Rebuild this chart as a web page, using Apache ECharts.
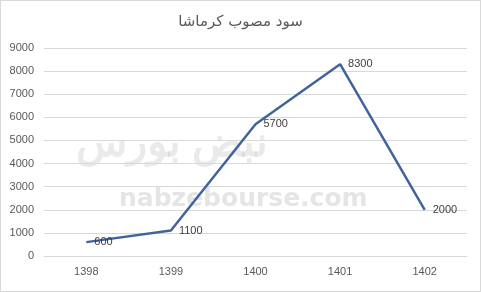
<!DOCTYPE html>
<html><head><meta charset="utf-8">
<script src="https://cdn.jsdelivr.net/npm/echarts@6/dist/echarts.min.js"></script>
<style>html,body{margin:0;padding:0;background:#fff}#c{width:481px;height:292px;box-sizing:border-box;border:1px solid #d9d9d9}</style>
</head><body><div id="c"></div>
<script>
const title = 'سود مصوب کرماشا';
const categories = ['1398', '1399', '1400', '1401', '1402'];
const values = [600, 1100, 5700, 8300, 2000];
const yTicks = [0, 1000, 2000, 3000, 4000, 5000, 6000, 7000, 8000, 9000];

const chart = echarts.init(document.getElementById('c'));
chart.setOption({
  animation: false,
  title: {text: title, left: 'center', top: 9, textStyle: {fontFamily: 'DejaVu Sans', fontSize: 15, fontWeight: 'normal', color: '#595959'}},
  graphic: [
    {type: 'text', left: 118, top: 186, z: 0, style: {text: 'nabzebourse.com', font: 'bold 25px "DejaVu Sans"', fill: 'rgba(170,170,170,0.3)'}},
    {type: 'text', left: 75, top: 122, z: 0, style: {text: 'نبض بورس', font: 'bold 42px "Noto Sans"', fill: 'rgba(170,170,170,0.25)'}}
  ],
  grid: {left: 43, right: 13, top: 47, bottom: 35},
  xAxis: {type: 'category', data: categories, boundaryGap: true,
    axisLine: {show: true, lineStyle: {color: '#d9d9d9'}}, axisTick: {show: false},
    axisLabel: {color: '#595959', fontSize: 11, fontFamily: 'Liberation Sans', margin: 10}},
  yAxis: {type: 'value', min: yTicks[0], max: yTicks[yTicks.length - 1], interval: 1000,
    axisLine: {show: false}, axisTick: {show: false},
    splitLine: {lineStyle: {color: '#d9d9d9'}},
    axisLabel: {color: '#595959', fontSize: 11, fontFamily: 'Liberation Sans', margin: 10, formatter: v => String(v)}},
  series: [{type: 'line', data: values, symbol: 'circle', symbolSize: 0, showSymbol: true, z: 5,
    itemStyle: {color: '#41649c'},
    lineStyle: {color: '#41649c', width: 2.5},
    label: {show: true, position: 'right', distance: 8, color: '#404040', fontSize: 11, fontFamily: 'Liberation Sans'}}]
});
</script></body></html>
